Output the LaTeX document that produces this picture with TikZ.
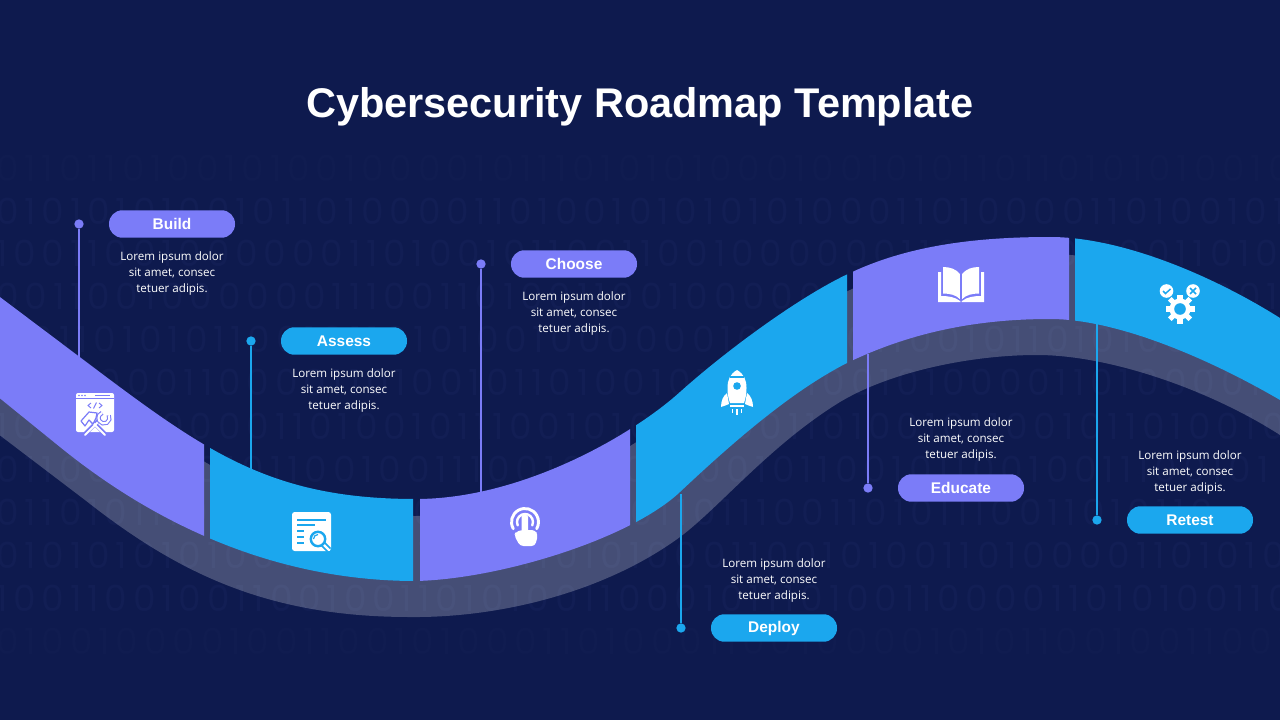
\documentclass[tikz,border=0pt]{standalone}
\usepackage{fontspec}
\setmainfont{Liberation Sans}
\newfontfamily\bodyfont{Open Sans}
\newfontfamily\binfont[LetterSpace=16]{Poppins}
\definecolor{bgnavy}{HTML}{0E1A4E}
\definecolor{bindigit}{HTML}{121E54}
\definecolor{binfaint}{HTML}{101C50}
\definecolor{purp}{HTML}{7B7CF8}
\definecolor{skyb}{HTML}{1BA7EE}
\tikzset{
  pill/.style={fill=#1,rounded corners=10.1pt,minimum width=94.5pt,minimum height=20.6pt,inner sep=0pt,text=white,font=\fontsize{11.6}{14}\selectfont\bfseries},
  bodytxt/.style={text=white,align=center,inner sep=0pt,font=\bodyfont\fontsize{8.7}{12}\selectfont},
  dotnode/.style={circle,fill=#1,minimum size=7pt,inner sep=0pt},
  leader/.style={draw=#1,line width=0.85pt},
  bin/.style={anchor=west,inner sep=0pt,text=#1,font=\binfont\fontsize{27}{30}\selectfont},
}
\newcommand\colorband[3]{%
  \begin{scope}
  \clip (#1,0) rectangle (#2,720);
  \fill[#3] (-40,267) -- (97,370) .. controls (210,455) and (275,499) .. (416,499)
     .. controls (520,499) and (630,437) .. (680,392)
     .. controls (725,351.5) and (800,296) .. (850,273)
     .. controls (905,247) and (970,237) .. (1050,237)
     .. controls (1120,237) and (1210,274) .. (1280,318) -- (1320,343)
     -- (1320,424) -- (1280,400)
     .. controls (1215,362) and (1120,319) .. (1050,319)
     .. controls (970,319) and (905,335) .. (847,363)
     .. controls (790,392) and (730,445) .. (680,492)
     .. controls (630,539) and (500,579) .. (416,581)
     .. controls (270,581) and (150,520) .. (60,447) -- (-40,366) -- cycle;
  \end{scope}}
\begin{document}
\begin{tikzpicture}[x=0.75pt,y=-0.75pt]
\useasboundingbox (0,0) rectangle (1280,720);
\fill[bgnavy] (0,0) rectangle (1280,720);
\clip (0,0) rectangle (1280,720);
% binary background
\node[bin=binfaint] (bina) at (-4,168) {01101101001010010000101110101010001001010110110101010010};
\node[bin=bindigit] (binb) at (-4,211) {01010101001011010000110100101010101000110100001101001010};
\node[bin=bindigit] (binc) at (-4,253) {10011001000000110100101100110010000001101001011001101010};
\node[bin=bindigit] (bind) at (-4,296) {00110010000001110011010011001000000111001101001100100110};
\node[bin=bindigit] (bine) at (-4,339) {11011010101100101101010010000001011010110010110101001011};
\node[bin=bindigit] (binf) at (-4,382) {00010001100001101001011010010110011001010000110100001101};
\node[bin=bindigit] (bing) at (-4,426) {10100100000110100101110010100100011010010110010110100101};
\node[bin=bindigit] (binh) at (-4,469) {01100111001011001001110010110010010110010110010011100101};
\node[bin=bindigit] (bini) at (-4,512) {01101011101011010010110101101011011100110101110011010110};
\node[bin=bindigit] (binj) at (-4,555) {01010101010011010010001101010001100101001101000011010100};
\node[bin=bindigit] (bink) at (-4,598) {10011001001100100110101001100010111010011000011010100110};
\node[bin=binfaint] (binl) at (-4,641) {01001000010011001010001101000110010000101011001001100100};
% shadow band
\fill[white,fill opacity=0.23] (-40,284) -- (97,387) .. controls (210,472) and (275,516) .. (416,516)
     .. controls (520,516) and (630,454) .. (680,409)
     .. controls (725,368.5) and (800,313) .. (850,290)
     .. controls (905,264) and (970,254) .. (1050,254)
     .. controls (1120,254) and (1210,291) .. (1280,335) -- (1320,360)
     -- (1320,461) -- (1280,435)
     .. controls (1210,390) and (1110,355) .. (1037,355)
     .. controls (970,355) and (890,372) .. (840,402)
     .. controls (770,445) and (720,507) .. (680,537)
     .. controls (605,592) and (500,618) .. (410,617)
     .. controls (270,617) and (180,575) .. (85,500) -- (-40,405) -- cycle;
% coloured segments
\colorband{-5}{204}{purp}
\colorband{210}{413}{skyb}
\colorband{420}{630}{purp}
\colorband{636}{847}{skyb}
\colorband{853}{1069}{purp}
\colorband{1075}{1290}{skyb}
% title
\node[text=white,inner sep=0pt,font=\fontsize{31.1}{36}\selectfont\bfseries] (title) at (640,106.5) {Cybersecurity Roadmap Template};
% leader ends
\coordinate (e1) at (79,357);
\coordinate (e2) at (251,470);
\coordinate (e3) at (481,492);
\coordinate (e4) at (681,494);
\coordinate (e5) at (868,354);
\coordinate (e6) at (1097,323);
\node[dotnode=purp] (d1) at (79,224) {};
\node[dotnode=skyb] (d2) at (251,341) {};
\node[dotnode=purp] (d3) at (481,264) {};
\node[dotnode=skyb] (d4) at (681,628) {};
\node[dotnode=purp] (d5) at (868,488) {};
\node[dotnode=skyb] (d6) at (1097,520) {};
\draw[leader=purp] (d1) -- (e1);
\draw[leader=skyb] (d2) -- (e2);
\draw[leader=purp] (d3) -- (e3);
\draw[leader=skyb] (d4) -- (e4);
\draw[leader=purp] (d5) -- (e5);
\draw[leader=skyb] (d6) -- (e6);
% pills
\node[pill=purp] (p1) at (172,224) {Build};
\node[pill=skyb] (p2) at (344,341) {Assess};
\node[pill=purp] (p3) at (574,264) {Choose};
\node[pill=skyb] (p4) at (774,628) {Deploy};
\node[pill=purp] (p5) at (961,488) {Educate};
\node[pill=skyb] (p6) at (1190,520) {Retest};
% body text
\node[bodytxt] (t1) at (172,273.5) {Lorem ipsum dolor\\sit amet, consec\\tetuer adipis.};
\node[bodytxt] (t2) at (344,390.5) {Lorem ipsum dolor\\sit amet, consec\\tetuer adipis.};
\node[bodytxt] (t3) at (574,313.5) {Lorem ipsum dolor\\sit amet, consec\\tetuer adipis.};
\node[bodytxt] (t4) at (774,580.5) {Lorem ipsum dolor\\sit amet, consec\\tetuer adipis.};
\node[bodytxt] (t5) at (961,439.5) {Lorem ipsum dolor\\sit amet, consec\\tetuer adipis.};
\node[bodytxt] (t6) at (1190,472.5) {Lorem ipsum dolor\\sit amet, consec\\tetuer adipis.};
% icon 1: window with tools
\fill[white,rounded corners=1.5pt] (76,393) rectangle (114,432);
\draw[purp,line width=0.6pt] (76,398.5) -- (114,398.5);
\fill[purp] (79,395.5) circle (0.9) (82,395.5) circle (0.9) (85,395.5) circle (0.9);
\draw[purp,line width=0.9pt] (95,395.5) -- (110,395.5);
\draw[purp,line width=0.7pt] (91,403) -- (88,405.5) -- (91,408);
\draw[purp,line width=0.7pt] (99,403) -- (102,405.5) -- (99,408);
\draw[purp,line width=0.7pt] (96.5,402.5) -- (93.5,408.5);
\draw[purp,line width=3pt] (85,434) -- (100,419);
\draw[purp,line width=3pt] (105,434) -- (92,421);
\draw[white,line width=1.5pt,line cap=round] (85,435) -- (100,420);
\draw[white,line width=1.5pt,line cap=round] (105,435) -- (92,422);
\draw[purp,line width=0.9pt,fill=white,line join=round] (81,421) -- (89,412) -- (97,413) -- (96,418) -- (93,424) -- (89,420) -- (85,426) -- cycle;
\draw[purp,line width=3.2pt] (104,418) ++(-30:5.5) arc[start angle=-30,end angle=250,radius=5.5];
\draw[white,line width=1.6pt] (104,418) ++(-30:5.5) arc[start angle=-30,end angle=250,radius=5.5];
% icon 2: report with magnifier
\fill[white,rounded corners=2pt] (292,512) rectangle (331,551);
\draw[skyb,line width=1.5pt] (297,519.5) -- (326,519.5);
\draw[skyb,line width=1.5pt] (297,525) -- (315,525);
\foreach \yy in {531,537,543} \draw[skyb,line width=1.5pt] (297,\yy) -- (304,\yy);
\draw[skyb,line width=4.5pt] (322,543) -- (329,550);
\draw[white,line width=1.6pt,line cap=round] (323,544) -- (329,550);
\draw[skyb,line width=1.8pt,fill=white] (318,539) circle (7.2);
\draw[skyb,line width=0.9pt] (313.5,539) arc[start angle=180,end angle=270,radius=4.5];
% icon 3: touch
\draw[white,line width=2.2pt,line cap=round] (525,522) ++(150:13.5) arc[start angle=150,end angle=390,radius=13.5];
\draw[white,line width=1.8pt,line cap=round] (525,522) ++(155:8) arc[start angle=155,end angle=385,radius=8];
\fill[white,rounded corners=1.5pt] (521.5,515) rectangle (528,535);
\fill[white,rounded corners=2.5pt] (516,532) -- (521,530) -- (535,530) -- (538,535) -- (535,546) -- (520,546) -- (514,535) -- cycle;
% icon 4: rocket
\fill[white] (737,370) .. controls (744,374) and (746.5,380) .. (746.5,388) .. controls (746.5,394) and (745.5,399) .. (744,403) -- (730,403) .. controls (728.5,399) and (727.5,394) .. (727.5,388) .. controls (727.5,380) and (730,374) .. (737,370) -- cycle;
\draw[skyb,line width=0.8pt] (730,377) -- (744,377);
\fill[skyb] (737,386) circle (3.8);
\fill[white] (727,393) .. controls (723,396) and (721,401) .. (721,407) .. controls (724,406) and (727,405) .. (729,404) -- cycle;
\fill[white] (747,393) .. controls (751,396) and (753,401) .. (753,407) .. controls (750,406) and (747,405) .. (745,404) -- cycle;
\fill[white] (730,404.5) rectangle (744,406.5);
\draw[white,line width=0.9pt] (732.5,409) -- (732.5,413) (737,409) -- (737,415) (741.5,409) -- (741.5,413);
% icon 5: book
\fill[white] (938,272) -- (941,272) -- (941,296) .. controls (948,296) and (955,297) .. (960,301) -- (960.5,302) -- (938,302) -- cycle;
\fill[white] (984,272) -- (981,272) -- (981,296) .. controls (974,296) and (967,297) .. (962,301) -- (961.5,302) -- (984,302) -- cycle;
\fill[white] (959.8,274) .. controls (956,269) and (950,267) .. (943,267) -- (943,293.5) .. controls (950,293.5) and (956,295) .. (959.8,299) -- cycle;
\fill[white] (962.2,274) .. controls (966,269) and (972,267) .. (979,267) -- (979,293.5) .. controls (972,293.5) and (966,295) .. (962.2,299) -- cycle;
% icon 6: gear with badges
\foreach \ang in {0,45,...,315}
  \draw[white,line width=3.8pt] (1180,309) ++(\ang:8) -- ++(\ang:6.5);
\fill[white] (1180,309) circle (10.5);
\fill[skyb] (1180,309) circle (5.8);
\fill[white] (1166.5,291) circle (6.8);
\fill[white] (1193,291) circle (6.8);
\draw[skyb,line width=1.1pt] (1163,291) -- (1165.5,293.5) -- (1170.5,289);
\draw[skyb,line width=1.1pt] (1190,288) -- (1196,294) (1196,288) -- (1190,294);
\end{tikzpicture}
\end{document}
